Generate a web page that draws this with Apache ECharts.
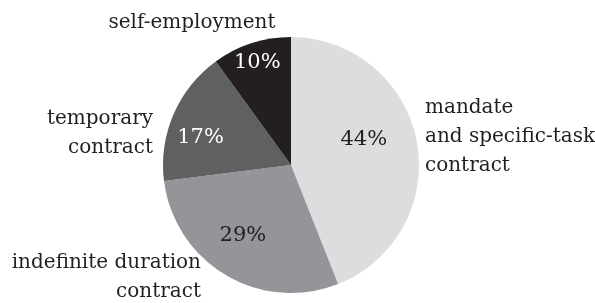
<!DOCTYPE html>
<html>
<head>
<meta charset="utf-8">
<script src="https://cdn.jsdelivr.net/npm/echarts@6/dist/echarts.min.js"></script>
<style>
  html, body { margin: 0; padding: 0; background: #fff; }
  #chart { width: 595px; height: 303px; }
</style>
</head>
<body>
<div id="chart"></div>
<script>
// data, clockwise from 12 o'clock
const categories = [
  "mandate\nand specific-task\ncontract",
  "indefinite duration\ncontract",
  "temporary\ncontract",
  "self-employment"
];
const shares = [44, 29, 17, 10];

// styles
const sliceColors = ["#dcdddf", "#939598", "#5f6062", "#231f20"];
const pctColors = ["#231f20", "#231f20", "#ffffff", "#ffffff"];
// nudge of the percent labels from the default inside spot
const pctOffsets = [[7, -13], [-14, 13], [-29, -1], [-13, -39]];
// where the category names sit
const namePlaces = [
  { x: 425, y: 137, align: "left" },
  { x: 201, y: 277, align: "right" },
  { x: 153, y: 133, align: "right" },
  { x: 192, y: 23, align: "center" }
];

// Liberation Serif isn't picked up here, DejaVu Serif is
const serif = "DejaVu Serif";

const chart = echarts.init(document.getElementById("chart"));

const option = {
  animation: false,
  textStyle: { fontFamily: serif },
  series: [
    {
      type: "pie",
      center: [291, 165],
      radius: 128,
      startAngle: 90,
      clockwise: true,
      silent: true,
      avoidLabelOverlap: false,
      itemStyle: { borderWidth: 0 },
      emphasis: { disabled: true },
      labelLine: { show: false },
      label: {
        show: true,
        position: "inside",
        formatter: "{c}%",
        fontFamily: serif,
        fontSize: 21
      },
      data: shares.map((v, i) => ({
        value: v,
        name: categories[i],
        itemStyle: { color: sliceColors[i] },
        label: {
          color: pctColors[i],
          offset: pctOffsets[i]
        }
      }))
    },
    {
      // same pie again, invisible, only to carry the category names
      type: "pie",
      center: [291, 165],
      radius: 128,
      startAngle: 90,
      clockwise: true,
      silent: true,
      avoidLabelOverlap: false,
      itemStyle: { color: "rgba(0,0,0,0)", borderWidth: 0 },
      emphasis: { disabled: true },
      labelLine: { show: false },
      label: {
        show: true,
        position: "outside",
        formatter: "{b}",
        color: "#231f20",
        fontFamily: serif,
        fontSize: 20,
        lineHeight: 29
      },
      labelLayout: function (params) {
        const p = namePlaces[params.dataIndex];
        return { x: p.x, y: p.y, align: p.align, verticalAlign: "middle" };
      },
      data: shares.map((v, i) => ({ value: v, name: categories[i] }))
    }
  ]
};

chart.setOption(option);
</script>
</body>
</html>
